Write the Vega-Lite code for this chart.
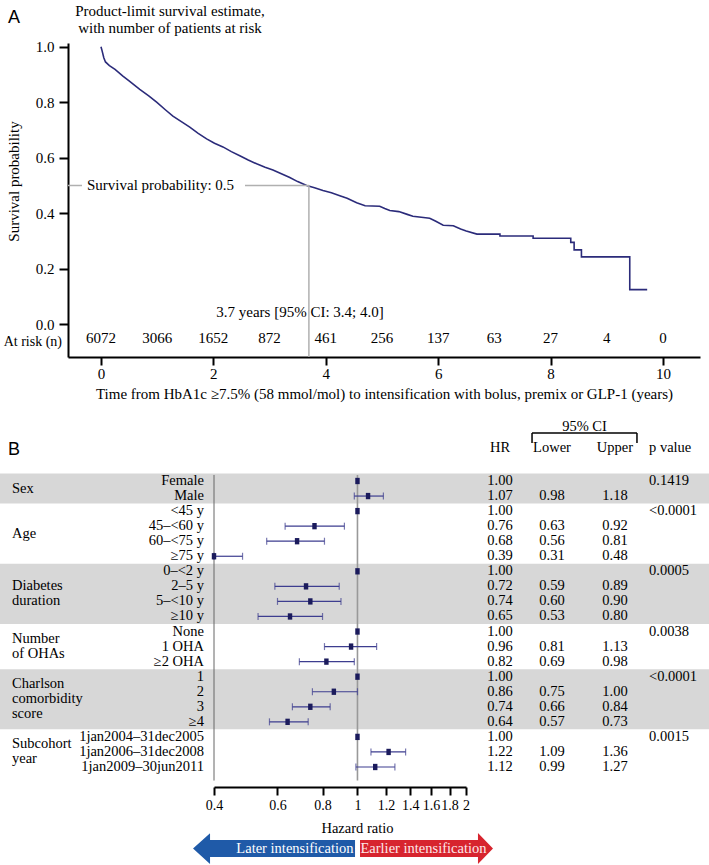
{
  "$schema": "https://vega.github.io/schema/vega-lite/v6.json",
  "width": 709,
  "height": 865,
  "autosize": {"type": "fit", "contains": "padding"},
  "padding": 0,
  "background": "white",
  "config": {
    "view": {"stroke": null},
    "font": "Liberation Serif",
    "text": {"font": "Liberation Serif", "fontSize": 15, "color": "black"},
    "axis": {"grid": false, "labelFont": "Liberation Serif", "titleFont": "Liberation Serif", "labelColor": "black", "titleColor": "black", "domainColor": "black", "tickColor": "black", "titleFontWeight": "normal"}
  },
  "datasets": {
    "curve": [
      {"t": 0, "s": 1.0}, {"t": 0.02, "s": 0.985}, {"t": 0.05, "s": 0.96}, {"t": 0.08, "s": 0.945},
      {"t": 0.15, "s": 0.932}, {"t": 0.25, "s": 0.918}, {"t": 0.39, "s": 0.894}, {"t": 0.5, "s": 0.877},
      {"t": 0.69, "s": 0.846}, {"t": 0.85, "s": 0.823}, {"t": 0.99, "s": 0.8}, {"t": 1.15, "s": 0.772},
      {"t": 1.28, "s": 0.75}, {"t": 1.43, "s": 0.73}, {"t": 1.58, "s": 0.71}, {"t": 1.73, "s": 0.688},
      {"t": 1.88, "s": 0.668}, {"t": 2.02, "s": 0.652}, {"t": 2.17, "s": 0.639}, {"t": 2.32, "s": 0.622},
      {"t": 2.47, "s": 0.607}, {"t": 2.62, "s": 0.592}, {"t": 2.77, "s": 0.578}, {"t": 2.92, "s": 0.566},
      {"t": 3.06, "s": 0.556}, {"t": 3.2, "s": 0.543}, {"t": 3.36, "s": 0.529}, {"t": 3.5, "s": 0.514},
      {"t": 3.66, "s": 0.5}, {"t": 3.8, "s": 0.492}, {"t": 3.95, "s": 0.482}, {"t": 4.1, "s": 0.474},
      {"t": 4.25, "s": 0.463}, {"t": 4.38, "s": 0.454}, {"t": 4.55, "s": 0.438}, {"t": 4.7, "s": 0.427},
      {"t": 4.96, "s": 0.425}, {"t": 5.05, "s": 0.417}, {"t": 5.14, "s": 0.41}, {"t": 5.3, "s": 0.406},
      {"t": 5.45, "s": 0.396}, {"t": 5.55, "s": 0.389}, {"t": 5.85, "s": 0.382}, {"t": 5.95, "s": 0.372},
      {"t": 6.09, "s": 0.357}, {"t": 6.27, "s": 0.355}, {"t": 6.4, "s": 0.343}, {"t": 6.5, "s": 0.336},
      {"t": 6.69, "s": 0.325}, {"t": 7.1, "s": 0.325}, {"t": 7.1, "s": 0.318}, {"t": 7.69, "s": 0.318},
      {"t": 7.69, "s": 0.31}, {"t": 8.36, "s": 0.31}, {"t": 8.36, "s": 0.295}, {"t": 8.42, "s": 0.295},
      {"t": 8.42, "s": 0.268}, {"t": 8.55, "s": 0.268}, {"t": 8.55, "s": 0.243}, {"t": 9.41, "s": 0.243},
      {"t": 9.41, "s": 0.125}, {"t": 9.72, "s": 0.125}
    ],
    "atrisk": [
      {"t": 0, "n": "6072"}, {"t": 1, "n": "3066"}, {"t": 2, "n": "1652"}, {"t": 3, "n": "872"},
      {"t": 4, "n": "461"}, {"t": 5, "n": "256"}, {"t": 6, "n": "137"}, {"t": 7, "n": "63"},
      {"t": 8, "n": "27"}, {"t": 9, "n": "4"}, {"t": 10, "n": "0"}
    ],
    "rows": [
      {"row": 0, "label": "Female", "hr": 1.0, "lo": null, "hi": null},
      {"row": 1, "label": "Male", "hr": 1.07, "lo": 0.98, "hi": 1.18},
      {"row": 2, "label": "<45 y", "hr": 1.0, "lo": null, "hi": null},
      {"row": 3, "label": "45–<60 y", "hr": 0.76, "lo": 0.63, "hi": 0.92},
      {"row": 4, "label": "60–<75 y", "hr": 0.68, "lo": 0.56, "hi": 0.81},
      {"row": 5, "label": "≥75 y", "hr": 0.39, "lo": 0.31, "hi": 0.48},
      {"row": 6, "label": "0–<2 y", "hr": 1.0, "lo": null, "hi": null},
      {"row": 7, "label": "2–5 y", "hr": 0.72, "lo": 0.59, "hi": 0.89},
      {"row": 8, "label": "5–<10 y", "hr": 0.74, "lo": 0.6, "hi": 0.9},
      {"row": 9, "label": "≥10 y", "hr": 0.65, "lo": 0.53, "hi": 0.8},
      {"row": 10, "label": "None", "hr": 1.0, "lo": null, "hi": null},
      {"row": 11, "label": "1 OHA", "hr": 0.96, "lo": 0.81, "hi": 1.13},
      {"row": 12, "label": "≥2 OHA", "hr": 0.82, "lo": 0.69, "hi": 0.98},
      {"row": 13, "label": "1", "hr": 1.0, "lo": null, "hi": null},
      {"row": 14, "label": "2", "hr": 0.86, "lo": 0.75, "hi": 1.0},
      {"row": 15, "label": "3", "hr": 0.74, "lo": 0.66, "hi": 0.84},
      {"row": 16, "label": "≥4", "hr": 0.64, "lo": 0.57, "hi": 0.73},
      {"row": 17, "label": "1jan2004–31dec2005", "hr": 1.0, "lo": null, "hi": null},
      {"row": 18, "label": "1jan2006–31dec2008", "hr": 1.22, "lo": 1.09, "hi": 1.36},
      {"row": 19, "label": "1jan2009–30jun2011", "hr": 1.12, "lo": 0.99, "hi": 1.27}
    ],
    "groups": [
      {"label": "Sex", "first": 0, "last": 1, "shade": true, "p": "0.1419"},
      {"label": "Age", "first": 2, "last": 5, "shade": false, "p": "<0.0001"},
      {"label": "Diabetes|duration", "first": 6, "last": 9, "shade": true, "p": "0.0005"},
      {"label": "Number|of OHAs", "first": 10, "last": 12, "shade": false, "p": "0.0038"},
      {"label": "Charlson|comorbidity|score", "first": 13, "last": 16, "shade": true, "p": "<0.0001"},
      {"label": "Subcohort|year", "first": 17, "last": 19, "shade": false, "p": "0.0015"}
    ]
  },
  "layer": [
    {
      "data": {"name": "groups"},
      "transform": [
        {"filter": "datum.shade"},
        {"calculate": "datum.first - 0.5", "as": "ytop"},
        {"calculate": "datum.last + 0.5", "as": "ybot"}
      ],
      "mark": {"type": "rect", "color": "#d7d7d7"},
      "encoding": {
        "y": {"field": "ytop", "type": "quantitative", "scale": {"domain": [0, 19], "range": [481, 767], "nice": false, "zero": false}, "axis": null},
        "y2": {"field": "ybot"}
      }
    },
    {
      "data": {"name": "curve"},
      "mark": {"type": "line", "color": "#2b2b7a", "strokeWidth": 1.6},
      "encoding": {
        "x": {"field": "t", "type": "quantitative",
          "scale": {"domain": [-0.587, 10.66], "range": [68, 700], "nice": false, "zero": false},
          "axis": {"orient": "bottom", "offset": -508, "values": [0, 2, 4, 6, 8, 10], "format": "d",
            "title": "Time from HbA1c  ≥7.5% (58 mmol/mol) to intensification with bolus, premix or GLP-1 (years)",
            "titleFontSize": 15, "titlePadding": 5, "labelFontSize": 15, "tickSize": 8, "tickWidth": 2,
            "domainWidth": 2, "labelPadding": 1, "labelFlush": false}},
        "y": {"field": "s", "type": "quantitative",
          "scale": {"domain": [-0.1178, 1.0133], "range": [357, 43], "nice": false, "zero": false},
          "axis": {"orient": "left", "offset": -68, "values": [0, 0.2, 0.4, 0.6, 0.8, 1], "format": ".1f",
            "title": "Survival probability", "titleFontSize": 15, "titlePadding": 14, "titleY": 181, "labelFontSize": 15,
            "tickSize": 9, "tickWidth": 2, "domainWidth": 2, "labelPadding": 5, "labelFlush": false}},
        "order": {"value": null}
      }
    },
    {
      "data": {"values": [{"x1": -0.587, "x2": -0.338}, {"x1": 2.563, "x2": 3.7}]},
      "mark": {"type": "rule", "color": "#b0b0b0", "strokeWidth": 1.5},
      "encoding": {
        "x": {"field": "x1", "type": "quantitative", "scale": {"domain": [-0.587, 10.66], "range": [68, 700], "nice": false, "zero": false}, "axis": null},
        "x2": {"field": "x2"},
        "y": {"datum": 0.5, "scale": {"domain": [-0.1178, 1.0133], "range": [357, 43], "nice": false, "zero": false}, "axis": null}
      }
    },
    {
      "data": {"values": [{}]},
      "mark": {"type": "rule", "color": "#b0b0b0", "strokeWidth": 1.5},
      "encoding": {
        "x": {"datum": 3.7, "scale": {"domain": [-0.587, 10.66], "range": [68, 700], "nice": false, "zero": false}, "axis": null},
        "y": {"datum": 0.5, "scale": {"domain": [-0.1178, 1.0133], "range": [357, 43], "nice": false, "zero": false}, "axis": null},
        "y2": {"datum": -0.1178}
      }
    },
    {
      "data": {"values": [{}]},
      "mark": {"type": "text", "text": "Survival probability: 0.5", "align": "left", "baseline": "middle"},
      "encoding": {
        "x": {"datum": -0.249, "scale": {"domain": [-0.587, 10.66], "range": [68, 700], "nice": false, "zero": false}, "axis": null},
        "y": {"datum": 0.5, "scale": {"domain": [-0.1178, 1.0133], "range": [357, 43], "nice": false, "zero": false}, "axis": null}
      }
    },
    {
      "data": {"values": [{}]},
      "mark": {"type": "text", "text": "3.7 years [95% CI: 3.4; 4.0]", "align": "center", "baseline": "middle"},
      "encoding": {
        "x": {"datum": 3.542, "scale": {"domain": [-0.587, 10.66], "range": [68, 700], "nice": false, "zero": false}, "axis": null},
        "y": {"datum": 0.044, "scale": {"domain": [-0.1178, 1.0133], "range": [357, 43], "nice": false, "zero": false}, "axis": null}
      }
    },
    {
      "data": {"name": "atrisk"},
      "mark": {"type": "text", "align": "center", "baseline": "middle"},
      "encoding": {
        "x": {"field": "t", "type": "quantitative", "scale": {"domain": [-0.587, 10.66], "range": [68, 700], "nice": false, "zero": false}, "axis": null},
        "y": {"datum": -0.051, "scale": {"domain": [-0.1178, 1.0133], "range": [357, 43], "nice": false, "zero": false}, "axis": null},
        "text": {"field": "n"}
      }
    },
    {
      "data": {"values": [{}]},
      "mark": {"type": "text", "text": "At risk (n)", "align": "right", "baseline": "middle", "fontSize": 14},
      "encoding": {
        "x": {"datum": -0.694, "scale": {"domain": [-0.587, 10.66], "range": [68, 700], "nice": false, "zero": false}, "axis": null},
        "y": {"datum": -0.0638, "scale": {"domain": [-0.1178, 1.0133], "range": [357, 43], "nice": false, "zero": false}, "axis": null}
      }
    },
    {
      "data": {"values": [{}]},
      "mark": {"type": "text", "text": ["Product-limit survival estimate,", "with number of patients at risk"], "align": "center", "baseline": "top", "lineHeight": 17},
      "encoding": {
        "x": {"datum": 1.228, "scale": {"domain": [-0.587, 10.66], "range": [68, 700], "nice": false, "zero": false}, "axis": null},
        "y": {"datum": 1.152, "scale": {"domain": [-0.1178, 1.0133], "range": [357, 43], "nice": false, "zero": false}, "axis": null}
      }
    },
    {
      "data": {"values": [{}]},
      "mark": {"type": "text", "text": "A", "align": "left", "baseline": "middle", "font": "Liberation Sans", "fontSize": 18},
      "encoding": {
        "x": {"datum": -1.655, "scale": {"domain": [-0.587, 10.66], "range": [68, 700], "nice": false, "zero": false}, "axis": null},
        "y": {"datum": 1.103, "scale": {"domain": [-0.1178, 1.0133], "range": [357, 43], "nice": false, "zero": false}, "axis": null}
      }
    },
    {
      "data": {"name": "groups"},
      "transform": [
        {"calculate": "split(datum.label, '|')", "as": "lines"},
        {"calculate": "length(datum.lines)", "as": "n"},
        {"flatten": ["lines"], "as": ["line"]},
        {"window": [{"op": "row_number", "as": "idx"}], "groupby": ["label"]},
        {"calculate": "(datum.first + datum.last) / 2 + (datum.idx - 1) - (datum.n - 1) / 2", "as": "ypos"}
      ],
      "mark": {"type": "text", "align": "left", "baseline": "middle", "fontSize": 14.5},
      "encoding": {
        "x": {"datum": 1.69, "scale": {"domain": [0, 100], "range": [0, 709], "nice": false, "zero": false}, "axis": null},
        "y": {"field": "ypos", "type": "quantitative", "scale": {"domain": [0, 19], "range": [481, 767], "nice": false, "zero": false}, "axis": null},
        "text": {"field": "line"}
      }
    },
    {
      "data": {"name": "rows"},
      "mark": {"type": "text", "align": "right", "baseline": "middle", "fontSize": 14.5},
      "encoding": {
        "x": {"datum": 28.77, "scale": {"domain": [0, 100], "range": [0, 709], "nice": false, "zero": false}, "axis": null},
        "y": {"field": "row", "type": "quantitative", "scale": {"domain": [0, 19], "range": [481, 767], "nice": false, "zero": false}, "axis": null},
        "text": {"field": "label"}
      }
    },
    {
      "data": {"name": "rows"},
      "mark": {"type": "text", "align": "center", "baseline": "middle", "fontSize": 14.5},
      "encoding": {
        "x": {"datum": 70.52, "scale": {"domain": [0, 100], "range": [0, 709], "nice": false, "zero": false}, "axis": null},
        "y": {"field": "row", "type": "quantitative", "scale": {"domain": [0, 19], "range": [481, 767], "nice": false, "zero": false}, "axis": null},
        "text": {"field": "hr", "type": "quantitative", "format": ".2f"}
      }
    },
    {
      "data": {"name": "rows"},
      "transform": [{"filter": "isValid(datum.lo)"}],
      "mark": {"type": "text", "align": "center", "baseline": "middle", "fontSize": 14.5},
      "encoding": {
        "x": {"datum": 77.86, "scale": {"domain": [0, 100], "range": [0, 709], "nice": false, "zero": false}, "axis": null},
        "y": {"field": "row", "type": "quantitative", "scale": {"domain": [0, 19], "range": [481, 767], "nice": false, "zero": false}, "axis": null},
        "text": {"field": "lo", "type": "quantitative", "format": ".2f"}
      }
    },
    {
      "data": {"name": "rows"},
      "transform": [{"filter": "isValid(datum.hi)"}],
      "mark": {"type": "text", "align": "center", "baseline": "middle", "fontSize": 14.5},
      "encoding": {
        "x": {"datum": 86.74, "scale": {"domain": [0, 100], "range": [0, 709], "nice": false, "zero": false}, "axis": null},
        "y": {"field": "row", "type": "quantitative", "scale": {"domain": [0, 19], "range": [481, 767], "nice": false, "zero": false}, "axis": null},
        "text": {"field": "hi", "type": "quantitative", "format": ".2f"}
      }
    },
    {
      "data": {"name": "groups"},
      "mark": {"type": "text", "align": "left", "baseline": "middle", "fontSize": 14.5},
      "encoding": {
        "x": {"datum": 91.54, "scale": {"domain": [0, 100], "range": [0, 709], "nice": false, "zero": false}, "axis": null},
        "y": {"field": "first", "type": "quantitative", "scale": {"domain": [0, 19], "range": [481, 767], "nice": false, "zero": false}, "axis": null},
        "text": {"field": "p"}
      }
    },
    {
      "data": {"values": [{"h": "HR", "c": 70.52}, {"h": "Lower", "c": 77.86}, {"h": "Upper", "c": 86.74}]},
      "mark": {"type": "text", "align": "center", "baseline": "middle", "fontSize": 14.5},
      "encoding": {
        "x": {"field": "c", "type": "quantitative", "scale": {"domain": [0, 100], "range": [0, 709], "nice": false, "zero": false}, "axis": null},
        "y": {"datum": -2.19, "scale": {"domain": [0, 19], "range": [481, 767], "nice": false, "zero": false}, "axis": null},
        "text": {"field": "h"}
      }
    },
    {
      "data": {"values": [{}]},
      "mark": {"type": "text", "text": "p value", "align": "left", "baseline": "middle", "fontSize": 14.5},
      "encoding": {
        "x": {"datum": 91.54, "scale": {"domain": [0, 100], "range": [0, 709], "nice": false, "zero": false}, "axis": null},
        "y": {"datum": -2.19, "scale": {"domain": [0, 19], "range": [481, 767], "nice": false, "zero": false}, "axis": null}
      }
    },
    {
      "data": {"values": [{}]},
      "mark": {"type": "text", "text": "95% CI", "align": "center", "baseline": "middle", "fontSize": 14.5},
      "encoding": {
        "x": {"datum": 82.44, "scale": {"domain": [0, 100], "range": [0, 709], "nice": false, "zero": false}, "axis": null},
        "y": {"datum": -3.59, "scale": {"domain": [0, 19], "range": [481, 767], "nice": false, "zero": false}, "axis": null}
      }
    },
    {
      "data": {"values": [{}]},
      "mark": {"type": "rule", "color": "black", "strokeWidth": 1.5},
      "encoding": {
        "x": {"datum": 75.04, "scale": {"domain": [0, 100], "range": [0, 709], "nice": false, "zero": false}, "axis": null},
        "x2": {"datum": 89.84},
        "y": {"datum": -3.19, "scale": {"domain": [0, 19], "range": [481, 767], "nice": false, "zero": false}, "axis": null}
      }
    },
    {
      "data": {"values": [{"c": 75.04}, {"c": 89.84}]},
      "mark": {"type": "rule", "color": "black", "strokeWidth": 1.5},
      "encoding": {
        "x": {"field": "c", "type": "quantitative", "scale": {"domain": [0, 100], "range": [0, 709], "nice": false, "zero": false}, "axis": null},
        "y": {"datum": -3.19, "scale": {"domain": [0, 19], "range": [481, 767], "nice": false, "zero": false}, "axis": null},
        "y2": {"datum": -2.52}
      }
    },
    {
      "data": {"values": [{}]},
      "mark": {"type": "text", "text": "B", "align": "left", "baseline": "middle", "font": "Liberation Sans", "fontSize": 18},
      "encoding": {
        "x": {"datum": 1.13, "scale": {"domain": [0, 100], "range": [0, 709], "nice": false, "zero": false}, "axis": null},
        "y": {"datum": -2.06, "scale": {"domain": [0, 19], "range": [481, 767], "nice": false, "zero": false}, "axis": null}
      }
    },
    {
      "data": {"values": [{}]},
      "mark": {"type": "point", "shape": "M-1,0L-0.79,-0.19L-0.79,-0.105L1,-0.105L1,0.105L-0.79,0.105L-0.79,0.19Z", "size": 26244, "filled": true, "color": "#1f5aa8", "opacity": 1, "strokeWidth": 0},
      "encoding": {
        "x": {"datum": 38.65, "scale": {"domain": [0, 100], "range": [0, 709], "nice": false, "zero": false}, "axis": null},
        "y": {"datum": 24.42, "scale": {"domain": [0, 19], "range": [481, 767], "nice": false, "zero": false}, "axis": null}
      }
    },
    {
      "data": {"values": [{}]},
      "mark": {"type": "point", "shape": "M1,0L0.774,-0.233L0.774,-0.128L-1,-0.128L-1,0.128L0.774,0.128L0.774,0.233Z", "size": 17689, "filled": true, "color": "#d7242e", "opacity": 1, "strokeWidth": 0},
      "encoding": {
        "x": {"datum": 60.155, "scale": {"domain": [0, 100], "range": [0, 709], "nice": false, "zero": false}, "axis": null},
        "y": {"datum": 24.42, "scale": {"domain": [0, 19], "range": [481, 767], "nice": false, "zero": false}, "axis": null}
      }
    },
    {
      "data": {"values": [{}]},
      "mark": {"type": "text", "text": "Later intensification", "align": "center", "baseline": "middle", "fontSize": 14.5, "color": "white"},
      "encoding": {
        "x": {"datum": 41.6, "scale": {"domain": [0, 100], "range": [0, 709], "nice": false, "zero": false}, "axis": null},
        "y": {"datum": 24.42, "scale": {"domain": [0, 19], "range": [481, 767], "nice": false, "zero": false}, "axis": null}
      }
    },
    {
      "data": {"values": [{}]},
      "mark": {"type": "text", "text": "Earlier intensification", "align": "center", "baseline": "middle", "fontSize": 14.5, "color": "#fde8ea"},
      "encoding": {
        "x": {"datum": 59.73, "scale": {"domain": [0, 100], "range": [0, 709], "nice": false, "zero": false}, "axis": null},
        "y": {"datum": 24.42, "scale": {"domain": [0, 19], "range": [481, 767], "nice": false, "zero": false}, "axis": null}
      }
    },
    {
      "data": {"values": [{"c": 0.4, "k": "a"}, {"c": 1, "k": "b"}]},
      "mark": {"type": "rule"},
      "encoding": {
        "x": {"field": "c", "type": "quantitative", "scale": {"type": "log", "domain": [0.4, 2], "range": [214, 466], "clamp": true, "nice": false}, "axis": null},
        "y": {"datum": -0.4, "scale": {"domain": [0, 19], "range": [481, 767], "nice": false, "zero": false}, "axis": null},
        "y2": {"datum": 19.9},
        "color": {"field": "k", "type": "nominal", "scale": {"domain": ["a", "b"], "range": ["#666666", "#999999"]}, "legend": null},
        "strokeWidth": {"field": "k", "type": "nominal", "scale": {"domain": ["a", "b"], "range": [1, 1.6]}, "legend": null}
      }
    },
    {
      "data": {"name": "rows"},
      "transform": [{"filter": "isValid(datum.lo)"}],
      "mark": {"type": "rule", "color": "#3d3d8f", "strokeWidth": 1.2},
      "encoding": {
        "x": {"field": "lo", "type": "quantitative",
          "scale": {"type": "log", "domain": [0.4, 2], "range": [214, 466], "clamp": true, "nice": false},
          "axis": {"orient": "bottom", "offset": -78, "values": [0.4, 0.6, 0.8, 1, 1.2, 1.4, 1.6, 1.8, 2], "format": "~g",
            "title": null, "labelFontSize": 14, "tickSize": 8, "tickWidth": 2, "domainWidth": 2, "labelPadding": 3,
            "labelOverlap": false, "labelFlush": false, "labelBound": false}},
        "x2": {"field": "hi"},
        "y": {"field": "row", "type": "quantitative", "scale": {"domain": [0, 19], "range": [481, 767], "nice": false, "zero": false}, "axis": null}
      }
    },
    {
      "data": {"name": "rows"},
      "transform": [{"filter": "isValid(datum.lo)"}, {"fold": ["lo", "hi"], "as": ["end", "v"]}],
      "mark": {"type": "tick", "orient": "vertical", "color": "#3d3d8f", "thickness": 1.2, "size": 7},
      "encoding": {
        "x": {"field": "v", "type": "quantitative", "scale": {"type": "log", "domain": [0.4, 2], "range": [214, 466], "clamp": true, "nice": false}, "axis": null},
        "y": {"field": "row", "type": "quantitative", "scale": {"domain": [0, 19], "range": [481, 767], "nice": false, "zero": false}, "axis": null}
      }
    },
    {
      "data": {"name": "rows"},
      "mark": {"type": "point", "shape": "M-0.7,-1H0.7V1H-0.7Z", "size": 40, "filled": true, "color": "#1b1b5c", "opacity": 1},
      "encoding": {
        "x": {"field": "hr", "type": "quantitative", "scale": {"type": "log", "domain": [0.4, 2], "range": [214, 466], "clamp": true, "nice": false}, "axis": null},
        "y": {"field": "row", "type": "quantitative", "scale": {"domain": [0, 19], "range": [481, 767], "nice": false, "zero": false}, "axis": null}
      }
    },
    {
      "data": {"values": [{}]},
      "mark": {"type": "text", "text": "Hazard ratio", "align": "center", "baseline": "middle", "fontSize": 14.5},
      "encoding": {
        "x": {"datum": 1, "scale": {"type": "log", "domain": [0.4, 2], "range": [214, 466], "clamp": true, "nice": false}, "axis": null},
        "y": {"datum": 23.12, "scale": {"domain": [0, 19], "range": [481, 767], "nice": false, "zero": false}, "axis": null}
      }
    }
  ],
  "resolve": {"scale": {"x": "independent", "y": "independent", "color": "independent", "strokeWidth": "independent"}, "axis": {"x": "independent", "y": "independent"}}
}
